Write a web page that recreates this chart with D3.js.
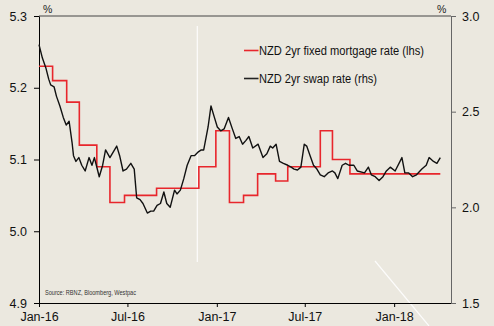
<!DOCTYPE html>
<html><head><meta charset="utf-8">
<script src="https://cdn.jsdelivr.net/npm/d3@7"></script>
<style>
html,body{margin:0;padding:0;background:#ebe8df;}
svg{display:block;font-family:"Liberation Sans",Arial,Helvetica,sans-serif;}
</style>
</head><body>
<svg id="chart" width="494" height="326"></svg>
<script>
// ---- data ----
const mortgageDates = ["2016-01-01","2016-01-29","2016-02-27","2016-03-24","2016-04-29","2016-05-26","2016-06-25","2016-08-30","2016-11-25","2016-12-30","2017-01-27","2017-02-25","2017-03-26","2017-05-02","2017-05-27","2017-08-02","2017-08-27","2017-10-02","2018-04-06"];
const mortgageValues = [5.23,5.21,5.18,5.12,5.09,5.04,5.05,5.06,5.09,5.14,5.04,5.05,5.08,5.07,5.09,5.14,5.10,5.08,5.08];

const swapDates = ["2016-01-01","2016-01-08","2016-01-15","2016-01-21","2016-01-25","2016-02-01","2016-02-06","2016-02-13","2016-02-20","2016-02-26",
"2016-03-03","2016-03-09","2016-03-12","2016-03-17","2016-03-23","2016-03-29","2016-04-05","2016-04-13","2016-04-19","2016-04-24",
"2016-04-28","2016-05-04","2016-05-11","2016-05-17","2016-05-26","2016-06-09","2016-06-15","2016-06-22","2016-06-29","2016-07-08",
"2016-07-15","2016-07-20","2016-07-27","2016-08-02","2016-08-11","2016-08-18","2016-08-24","2016-08-31","2016-09-07","2016-09-14",
"2016-09-20","2016-09-27","2016-10-06","2016-10-11","2016-10-18","2016-10-25","2016-11-01","2016-11-09","2016-11-16","2016-11-24",
"2016-11-30","2016-12-05","2016-12-14","2016-12-20","2016-12-27","2017-01-02","2017-01-09","2017-01-16","2017-01-25","2017-02-02",
"2017-02-09","2017-02-16","2017-02-23","2017-03-02","2017-03-08","2017-03-16","2017-03-27","2017-04-06","2017-04-14","2017-04-21",
"2017-04-26","2017-05-03","2017-05-10","2017-05-18","2017-05-27","2017-06-03","2017-06-09","2017-06-16","2017-06-23","2017-06-30",
"2017-07-05","2017-07-12","2017-07-19","2017-07-26","2017-08-02","2017-08-10","2017-08-18","2017-08-27","2017-09-01","2017-09-07",
"2017-09-16","2017-09-23","2017-09-30","2017-10-10","2017-10-17","2017-11-01","2017-11-09","2017-11-15","2017-11-23","2017-12-01",
"2017-12-09","2017-12-16","2017-12-24","2018-01-03","2018-01-17","2018-01-23","2018-01-31","2018-02-08","2018-02-16","2018-02-27",
"2018-03-08","2018-03-14","2018-03-23","2018-03-30","2018-04-06"];
const swapValues = [2.85,2.78,2.73,2.67,2.64,2.63,2.58,2.53,2.47,2.43,
2.45,2.34,2.27,2.24,2.26,2.22,2.19,2.26,2.22,2.26,
2.22,2.16,2.22,2.30,2.26,2.32,2.27,2.19,2.20,2.23,
2.20,2.05,2.04,2.02,1.97,1.98,1.98,2.01,2.02,2.08,
2.02,2.00,2.09,2.07,2.09,2.15,2.22,2.27,2.27,2.29,
2.30,2.30,2.42,2.53,2.47,2.42,2.40,2.41,2.47,2.41,
2.36,2.37,2.33,2.35,2.37,2.31,2.33,2.26,2.28,2.32,
2.31,2.33,2.24,2.23,2.22,2.21,2.20,2.195,2.21,2.33,
2.32,2.27,2.22,2.20,2.17,2.16,2.18,2.19,2.18,2.15,
2.22,2.23,2.22,2.22,2.19,2.18,2.21,2.17,2.16,2.14,
2.16,2.19,2.21,2.19,2.26,2.18,2.18,2.16,2.17,2.20,
2.22,2.26,2.24,2.23,2.26];

const leftTicks = [4.9, 5.0, 5.1, 5.2, 5.3];
const rightTicks = [1.5, 2.0, 2.5, 3.0];
const xTickDates = ["2016-01-01","2016-07-01","2017-01-01","2017-07-01","2018-01-01"];
const xTickLabels = ["Jan-16","Jul-16","Jan-17","Jul-17","Jan-18"];
const xDomain = ["2016-01-01","2018-04-28"];
const seriesNames = ["NZD 2yr fixed mortgage rate (lhs)", "NZD 2yr swap rate (rhs)"];
const sourceText = "Source: RBNZ, Bloomberg, Westpac";

// ---- layout ----
const W = 494, H = 326;
const L = 39, R = 451, T = 16, B = 303;
const RED = "#e8262c", BLACK = "#111";

const parse = d3.utcParse("%Y-%m-%d");
const svg = d3.select("#chart");

svg.append("rect").attr("width", W).attr("height", H).attr("fill", "#ebe8df");

const x = d3.scaleUtc().domain(xDomain.map(parse)).range([L, R]);
const yL = d3.scaleLinear().domain([4.9, 5.3]).range([B, T]);
const yR = d3.scaleLinear().domain([1.5, 3.0]).range([B, T]);

const mortgage = mortgageDates.map((d, i) => ({date: parse(d), value: mortgageValues[i]}));
const swap = swapDates.map((d, i) => ({date: parse(d), value: swapValues[i]}));

// artifacts (white streaks seen in the reference image)
svg.append("line").attr("x1", 197.3).attr("x2", 197.3).attr("y1", 26).attr("y2", 262)
  .attr("stroke", "#fff").attr("stroke-width", 1.2).attr("opacity", 0.9);
svg.append("line").attr("x1", 375).attr("y1", 261).attr("x2", 429).attr("y2", 326)
  .attr("stroke", "#fff").attr("stroke-width", 1.2).attr("opacity", 0.9);

// top frame line
svg.append("line").attr("x1", L).attr("x2", R).attr("y1", T).attr("y2", T)
  .attr("stroke", "#444").attr("stroke-width", 1);

const fs = "12.5px";

// left axis
const gL = svg.append("g").attr("transform", `translate(${L},0)`)
  .call(d3.axisLeft(yL).tickValues(leftTicks).tickFormat(d3.format(".1f")).tickSize(5).tickSizeOuter(0).tickPadding(7));
gL.select(".domain").attr("stroke", "#000");
gL.selectAll("line").attr("stroke", "#000");
gL.selectAll("text").attr("font-size", fs).attr("fill", "#111").attr("font-family", null);

// right axis
const gR = svg.append("g").attr("transform", `translate(${R},0)`)
  .call(d3.axisRight(yR).tickValues(rightTicks).tickFormat(d3.format(".1f")).tickSize(5).tickSizeOuter(0).tickPadding(6));
gR.select(".domain").attr("stroke", "#666");
gR.selectAll("line").attr("stroke", "#666");
gR.selectAll("text").attr("font-size", fs).attr("fill", "#111").attr("font-family", null);

// bottom axis
const gB = svg.append("g").attr("transform", `translate(0,${B})`)
  .call(d3.axisBottom(x).tickValues(xTickDates.map(parse)).tickFormat((d, i) => xTickLabels[i]).tickSize(4).tickSizeOuter(0).tickPadding(5));
gB.select(".domain").attr("stroke", "#000");
gB.selectAll("line").attr("stroke", "#000");
gB.selectAll("text").attr("font-size", fs).attr("fill", "#111").attr("font-family", null);
gB.selectAll(".domain").attr("d", `M${L},0.5H${R}`);

// unit labels
svg.append("text").attr("x", 43).attr("y", 13).attr("font-size", "10.5px").attr("fill", "#222").text("%");
svg.append("text").attr("x", 437).attr("y", 13).attr("font-size", "10.5px").attr("fill", "#222").text("%");

// series
svg.append("path").datum(mortgage)
  .attr("fill", "none").attr("stroke", RED).attr("stroke-width", 1.6)
  .attr("d", d3.line().x(d => x(d.date)).y(d => yL(d.value)).curve(d3.curveStepAfter));

svg.append("path").datum(swap)
  .attr("fill", "none").attr("stroke", BLACK).attr("stroke-width", 1.4).attr("stroke-linejoin", "round")
  .attr("d", d3.line().x(d => x(d.date)).y(d => yR(d.value)));

// legend
const legend = [
  {name: seriesNames[0], color: RED, y: 50.5, w: 165},
  {name: seriesNames[1], color: "#222", y: 78.5, w: 118}
];
legend.forEach(l => {
  svg.append("line").attr("x1", 244).attr("x2", 258.5).attr("y1", l.y).attr("y2", l.y)
    .attr("stroke", l.color).attr("stroke-width", 1.6);
  svg.append("text").attr("x", 259).attr("y", l.y + 4.6).attr("font-size", "12.5px").attr("fill", "#111")
    .attr("textLength", l.w).attr("lengthAdjust", "spacingAndGlyphs").text(l.name);
});

// source
svg.append("text").attr("x", 45).attr("y", 294.5).attr("font-size", "6.8px").attr("fill", "#333")
  .attr("textLength", 91).attr("lengthAdjust", "spacingAndGlyphs").text(sourceText);
</script>
</body></html>
